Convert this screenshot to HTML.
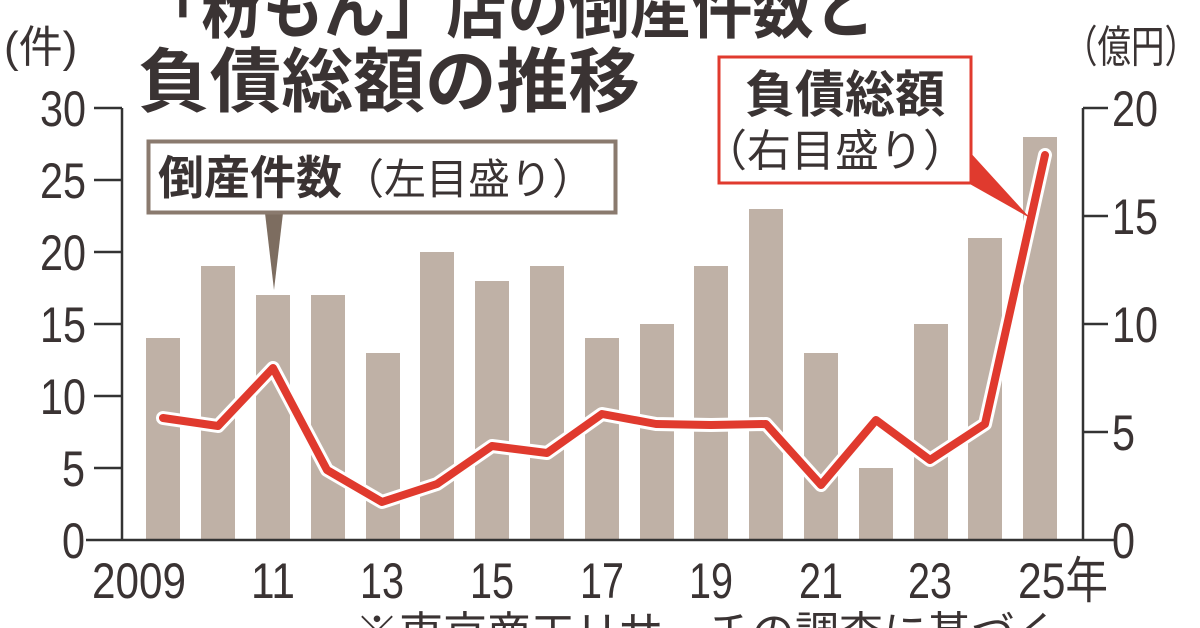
<!DOCTYPE html>
<html><head><meta charset="utf-8"><style>
html,body{margin:0;padding:0;background:#fff;}
svg{display:block;}
text{font-family:"Liberation Sans","Noto Sans CJK JP",sans-serif;fill:#3a3333;}
.t{font-weight:bold;font-size:70px;}
.ax{font-size:50px;}
</style></head><body>
<svg width="1200" height="628" viewBox="0 0 1200 628" xmlns="http://www.w3.org/2000/svg">
<g fill="#bfb1a6">
<rect x="146" y="338" width="34" height="202"/>
<rect x="201" y="266" width="34" height="274"/>
<rect x="256" y="295" width="34" height="245"/>
<rect x="311" y="295" width="34" height="245"/>
<rect x="366" y="353" width="34" height="187"/>
<rect x="420" y="252" width="34" height="288"/>
<rect x="475" y="281" width="34" height="259"/>
<rect x="530" y="266" width="34" height="274"/>
<rect x="585" y="338" width="34" height="202"/>
<rect x="640" y="324" width="34" height="216"/>
<rect x="694" y="266" width="34" height="274"/>
<rect x="749" y="209" width="34" height="331"/>
<rect x="804" y="353" width="34" height="187"/>
<rect x="859" y="468" width="34" height="72"/>
<rect x="914" y="324" width="34" height="216"/>
<rect x="968" y="238" width="34" height="302"/>
<rect x="1023" y="137" width="34" height="403"/>
</g>
<polyline fill="none" stroke="#fff" stroke-width="14" stroke-linejoin="round" stroke-linecap="round" points="163,418 218,426 273,368 327,470 382,502 437,484 492,446 547,453 602,414 656,424 711,425 766,424 821,485 876,420 930,460 985,424 1045,155"/>
<polyline fill="none" stroke="#e03a2e" stroke-width="8" stroke-linejoin="round" stroke-linecap="round" points="163,418 218,426 273,368 327,470 382,502 437,484 492,446 547,453 602,414 656,424 711,425 766,424 821,485 876,420 930,460 985,424 1045,155"/>
<g stroke="#333" stroke-width="2.5" fill="none">
<line x1="122" y1="108" x2="122" y2="540"/>
<line x1="1083" y1="108" x2="1083" y2="540"/>
<line x1="86" y1="540" x2="1114" y2="540"/>
<line x1="94" y1="108" x2="122" y2="108"/><line x1="94" y1="180" x2="122" y2="180"/><line x1="94" y1="252" x2="122" y2="252"/><line x1="94" y1="324" x2="122" y2="324"/><line x1="94" y1="396" x2="122" y2="396"/><line x1="94" y1="468" x2="122" y2="468"/>
<line x1="1083" y1="108" x2="1108" y2="108"/><line x1="1083" y1="216" x2="1108" y2="216"/><line x1="1083" y1="324" x2="1108" y2="324"/><line x1="1083" y1="432" x2="1108" y2="432"/>
</g>
<g class="ax">
<text x="40" y="126" textLength="46" lengthAdjust="spacingAndGlyphs">30</text>
<text x="40" y="198" textLength="46" lengthAdjust="spacingAndGlyphs">25</text>
<text x="40" y="270" textLength="46" lengthAdjust="spacingAndGlyphs">20</text>
<text x="40" y="342" textLength="46" lengthAdjust="spacingAndGlyphs">15</text>
<text x="40" y="414" textLength="46" lengthAdjust="spacingAndGlyphs">10</text>
<text x="62" y="486" textLength="23" lengthAdjust="spacingAndGlyphs">5</text>
<text x="62" y="558" textLength="23" lengthAdjust="spacingAndGlyphs">0</text>
<text x="1112" y="126" textLength="46" lengthAdjust="spacingAndGlyphs">20</text>
<text x="1112" y="234" textLength="46" lengthAdjust="spacingAndGlyphs">15</text>
<text x="1112" y="342" textLength="46" lengthAdjust="spacingAndGlyphs">10</text>
<text x="1112" y="450" textLength="23" lengthAdjust="spacingAndGlyphs">5</text>
<text x="1112" y="558" textLength="23" lengthAdjust="spacingAndGlyphs">0</text>
<text x="92" y="598" textLength="94" lengthAdjust="spacingAndGlyphs">2009</text>
<text x="251" y="598" textLength="44" lengthAdjust="spacingAndGlyphs">11</text>
<text x="360" y="598" textLength="44" lengthAdjust="spacingAndGlyphs">13</text>
<text x="470" y="598" textLength="44" lengthAdjust="spacingAndGlyphs">15</text>
<text x="580" y="598" textLength="44" lengthAdjust="spacingAndGlyphs">17</text>
<text x="689" y="598" textLength="44" lengthAdjust="spacingAndGlyphs">19</text>
<text x="799" y="598" textLength="44" lengthAdjust="spacingAndGlyphs">21</text>
<text x="908" y="598" textLength="44" lengthAdjust="spacingAndGlyphs">23</text>
<text x="1018" y="598" textLength="90" lengthAdjust="spacingAndGlyphs">25年</text>
</g>
<text x="4" y="62" style="font-size:44px">(件)</text>
<text x="1064" y="62" style="font-size:44px" textLength="134" lengthAdjust="spacingAndGlyphs">（億円）</text>
<text class="t" x="140" y="32" textLength="735" lengthAdjust="spacingAndGlyphs">「粉もん」店の倒産件数と</text>
<text class="t" x="138" y="106" textLength="502" lengthAdjust="spacingAndGlyphs">負債総額の推移</text>
<polygon points="265,213 283,213 274,290" fill="#7d6d60"/>
<rect x="148.5" y="141.5" width="467" height="71" fill="#fff" stroke="#8a7a6e" stroke-width="4"/>
<text x="158" y="194" style="font-size:46px;font-weight:bold">倒産件数<tspan style="font-weight:normal;font-size:42px">（左目盛り）</tspan></text>
<polygon points="968,150 968,183 1030,218" fill="#e03a2e"/>
<rect x="719" y="57" width="252" height="126" fill="#fff" stroke="#e03a2e" stroke-width="3"/>
<text x="845" y="112" text-anchor="middle" style="font-size:50px;font-weight:bold">負債総額</text>
<text x="835" y="166" text-anchor="middle" style="font-size:44px">（右目盛り）</text>
<text x="355" y="648" style="font-size:44px">※東京商工リサーチの調査に基づく</text>
</svg>
</body></html>
